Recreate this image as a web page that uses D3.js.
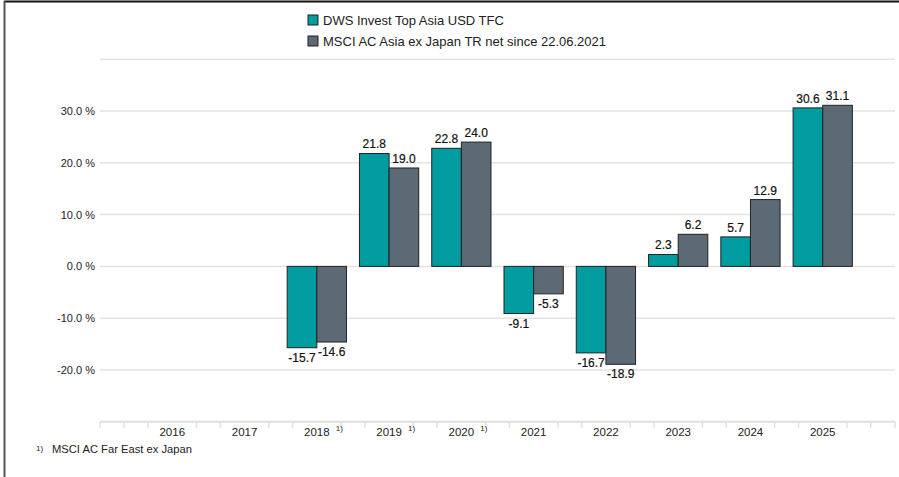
<!DOCTYPE html>
<html lang="en">
<head>
<meta charset="utf-8">
<title>DWS Invest Top Asia</title>
<script src="https://cdn.jsdelivr.net/npm/d3@7"></script>
<style>
  html, body { margin: 0; padding: 0; background: #fff; }
  svg { display: block; font-family: "Liberation Sans", Arial, sans-serif; }
</style>
</head>
<body>
<script>
// data
const years = [2016, 2017, 2018, 2019, 2020, 2021, 2022, 2023, 2024, 2025];
const footnoted = [2018, 2019, 2020];
const fundValues = [null, null, -15.7, 21.8, 22.8, -9.1, -16.7, 2.3, 5.7, 30.6];
const benchValues = [null, null, -14.6, 19.0, 24.0, -5.3, -18.9, 6.2, 12.9, 31.1];
const seriesNames = ["DWS Invest Top Asia USD TFC", "MSCI AC Asia ex Japan TR net since 22.06.2021"];
const yTicks = [-20, -10, 0, 10, 20, 30];
const footnote = "MSCI AC Far East ex Japan";

const w = 899, h = 477;
const colors = ["#009c9f", "#5b6a74"];

const svg = d3.select("body").append("svg")
  .attr("width", w)
  .attr("height", h);

// frame
svg.append("line").attr("x1", 4).attr("x2", w).attr("y1", 1.5).attr("y2", 1.5)
  .attr("stroke", "#111").attr("stroke-width", 2);
svg.append("line").attr("x1", 4.5).attr("x2", 4.5).attr("y1", 1).attr("y2", h)
  .attr("stroke", "#555").attr("stroke-width", 2);

// scales
const x = d3.scaleLinear().domain([2015, 2026]).range([100, 895]);
const y = d3.scaleLinear().domain([-30, 40]).range([421.8, 59.2]);
const step = x(1) - x(0);
const bw = step * 0.41;

// gridlines
svg.append("g").selectAll("line")
  .data([-20, -10, 0, 10, 20, 30, 40])
  .join("line")
  .attr("x1", 100).attr("x2", 895)
  .attr("y1", d => y(d)).attr("y2", d => y(d))
  .attr("stroke", "#e3e3e3").attr("stroke-width", 1.5);

// y labels
svg.append("g").selectAll("text")
  .data(yTicks)
  .join("text")
  .attr("x", 95)
  .attr("y", d => y(d) + 4)
  .attr("text-anchor", "end")
  .attr("font-size", 11)
  .attr("fill", "#222")
  .text(d => d.toFixed(1) + " %");

// x axis
const axisY = y(-30);
svg.append("line").attr("x1", 100).attr("x2", 895).attr("y1", axisY).attr("y2", axisY)
  .attr("stroke", "#e0e0e0").attr("stroke-width", 2);
let tickPos = [2015, 2026];
for (let yr = 2015; yr <= 2026; yr++) {
  if (yr > 2015) tickPos.push(yr - 0.335);
  if (yr < 2026) tickPos.push(yr + 0.335);
}
svg.append("g").selectAll("line")
  .data(tickPos)
  .join("line")
  .attr("x1", d => x(d)).attr("x2", d => x(d))
  .attr("y1", axisY).attr("y2", axisY + 6)
  .attr("stroke", "#e0e0e0").attr("stroke-width", 1.5);

const xl = svg.append("g").selectAll("g")
  .data(years)
  .join("g");
xl.append("text")
  .attr("x", d => x(d))
  .attr("y", axisY + 14)
  .attr("text-anchor", "middle")
  .attr("font-size", 11.5)
  .attr("fill", "#222")
  .text(d => d);
xl.filter(d => footnoted.includes(d)).append("text")
  .attr("x", d => x(d) + 19)
  .attr("y", axisY + 9)
  .attr("font-size", 8)
  .attr("fill", "#222")
  .text("1)");

// bars
const rows = [];
years.forEach((yr, i) => {
  [fundValues[i], benchValues[i]].forEach((v, s) => {
    if (v !== null) rows.push({ year: yr, s: s, v: v });
  });
});

svg.append("g").selectAll("rect")
  .data(rows)
  .join("rect")
  .attr("x", d => x(d.year) + (d.s === 0 ? -bw : 0))
  .attr("y", d => y(Math.max(0, d.v)))
  .attr("width", bw)
  .attr("height", d => Math.abs(y(d.v) - y(0)))
  .attr("fill", d => colors[d.s])
  .attr("stroke", "#222")
  .attr("stroke-width", 1);

svg.append("g").selectAll("text")
  .data(rows)
  .join("text")
  .attr("x", d => x(d.year) + (d.s === 0 ? -bw / 2 : bw / 2))
  .attr("y", d => d.v >= 0 ? y(d.v) - 5 : y(d.v) + 14)
  .attr("text-anchor", "middle")
  .attr("font-size", 12)
  .attr("fill", "#111")
  .attr("stroke", "#111")
  .attr("stroke-width", 0.2)
  .text(d => d.v.toFixed(1));

// legend
const lg = svg.append("g").selectAll("g")
  .data(seriesNames)
  .join("g")
  .attr("transform", (d, i) => `translate(308, ${15 + i * 21})`);
lg.append("rect")
  .attr("width", 10).attr("height", 10)
  .attr("fill", (d, i) => colors[i])
  .attr("stroke", "#222").attr("stroke-width", 1);
lg.append("text")
  .attr("x", 15).attr("y", 10)
  .attr("font-size", 13)
  .attr("fill", "#222")
  .text(d => d);

// footnote
svg.append("text").attr("x", 36).attr("y", 451).attr("font-size", 8).attr("fill", "#222").text("1)");
svg.append("text").attr("x", 52).attr("y", 453).attr("font-size", 11.2).attr("fill", "#222").text(footnote);
</script>
</body>
</html>
